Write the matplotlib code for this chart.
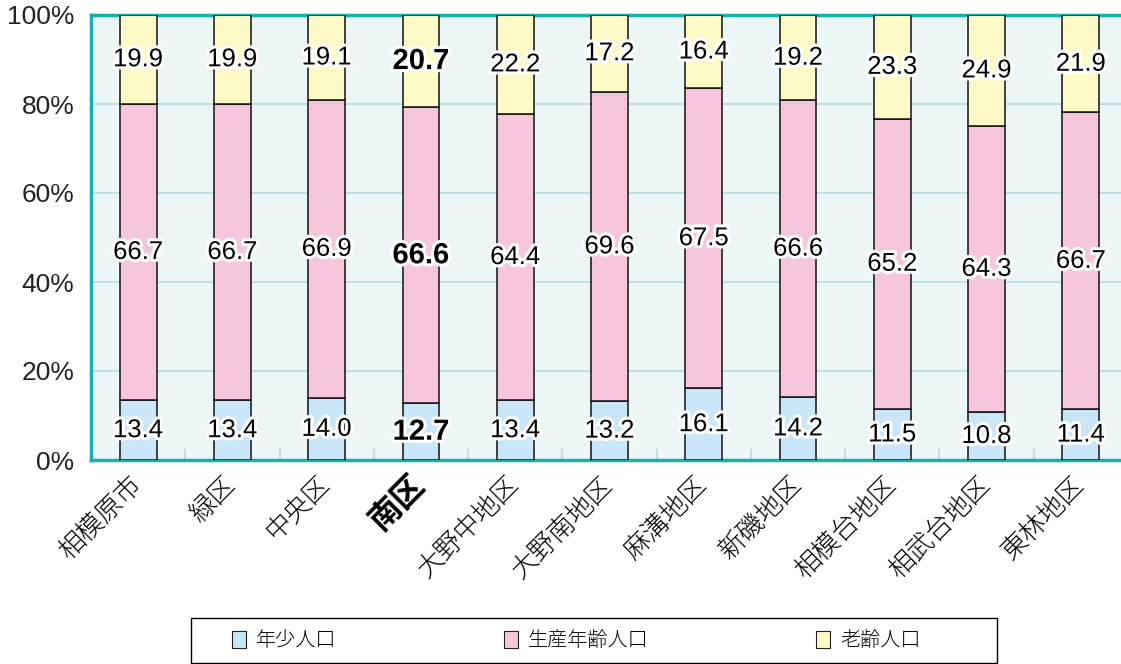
import matplotlib
matplotlib.use("Agg")
import matplotlib.pyplot as plt
import matplotlib.patheffects as pe
import matplotlib.transforms as mtransforms
from matplotlib.patches import Patch, Rectangle
import numpy as np

plt.rcParams['font.family'] = ['Liberation Sans', 'Noto Sans CJK JP', 'DejaVu Sans']

categories = ['相模原市', '緑区', '中央区', '南区', '大野中地区', '大野南地区',
              '麻溝地区', '新磯地区', '相模台地区', '相武台地区', '東林地区']
young = [13.4, 13.4, 14.0, 12.7, 13.4, 13.2, 16.1, 14.2, 11.5, 10.8, 11.4]
working = [66.7, 66.7, 66.9, 66.6, 64.4, 69.6, 67.5, 66.6, 65.2, 64.3, 66.7]
elderly = [19.9, 19.9, 19.1, 20.7, 22.2, 17.2, 16.4, 19.2, 23.3, 24.9, 21.9]
series_names = ['年少人口', '生産年齢人口', '老齢人口']
highlight = '南区'

colors = ['#c9e7f8', '#f6c6dc', '#fefac8']
teal = '#19adb2'
grid_color = '#b2dde0'
bg = '#edf6f7'

fig = plt.figure(figsize=(11.21, 6.64), dpi=100)
ax = fig.add_axes([91 / 1121, 1 - 460 / 664, (1128 - 91) / 1121, 445 / 664])
ax.set_facecolor(bg)

x = np.arange(len(categories))
width = 0.39
stack = [young, working, elderly]
bottom = np.zeros(len(categories))
outline = [pe.withStroke(linewidth=4.5, foreground='white')]
for vals, col in zip(stack, colors):
    vals = np.array(vals)
    ax.bar(x, vals, width, bottom=bottom, color=col, edgecolor='#111111',
           linewidth=1.1, zorder=3)
    for xi, b, v, cat in zip(x, bottom, vals, categories):
        bold = cat == highlight
        ax.text(xi, b + v / 2, f'{v:.1f}', ha='center', va='center',
                fontsize=21 if bold else 18.5,
                fontweight='bold' if bold else 'normal',
                color='black', zorder=5, path_effects=outline)
    bottom = bottom + vals

ax.set_xlim(-0.5, len(categories) - 0.5)
ax.set_ylim(0, 100)
ax.set_yticks([0, 20, 40, 60, 80, 100])
ax.set_yticklabels([f'{v}%' for v in [0, 20, 40, 60, 80, 100]], fontsize=19,
                   color='#222222')
ax.yaxis.grid(True, color=grid_color, linewidth=1.2, zorder=1)
ax.set_axisbelow(True)

ax.set_xticks(x)
ax.set_xticklabels(categories, rotation=45, ha='right', va='center',
                   rotation_mode='anchor', fontsize=19, fontweight='light')
shift = mtransforms.ScaledTranslation(14 / 100, 0, fig.dpi_scale_trans)
for lbl in ax.get_xticklabels():
    lbl.set_transform(lbl.get_transform() + shift)
    if lbl.get_text() == highlight:
        lbl.set_fontweight('bold')
        lbl.set_fontsize(23)
ax.set_xticks(x[:-1] + 0.5, minor=True)
ax.tick_params(axis='x', which='major', length=0, pad=15)
ax.tick_params(axis='x', which='minor', direction='in', length=8,
               color=grid_color, width=1.2)
ax.tick_params(axis='y', length=0, pad=12)

for side in ['left', 'bottom', 'top']:
    ax.spines[side].set_color(teal)
    ax.spines[side].set_linewidth(2.5)
ax.spines['right'].set_visible(False)

# legend box spanning the lower band
box_l, box_b = 191 / 1121, 1 - 663 / 664
box_w, box_h = (997 - 191) / 1121, 45 / 664
fig.patches.append(Rectangle((box_l, box_b), box_w, box_h, transform=fig.transFigure,
                             facecolor='white', edgecolor='black', linewidth=1.0,
                             zorder=0))
handles = [Patch(facecolor=c, edgecolor='#222222', linewidth=0.8) for c in colors]
leg = fig.legend(handles, series_names, loc='center', ncol=3,
                 bbox_to_anchor=(box_l + box_w / 2 - 0.016, box_b + box_h / 2),
                 frameon=False, handlelength=0.7, handleheight=0.9,
                 handletextpad=0.5, columnspacing=8.3, borderaxespad=0,
                 prop={'weight': 'light', 'size': 14.5})

fig.savefig('out.png', dpi=100)
